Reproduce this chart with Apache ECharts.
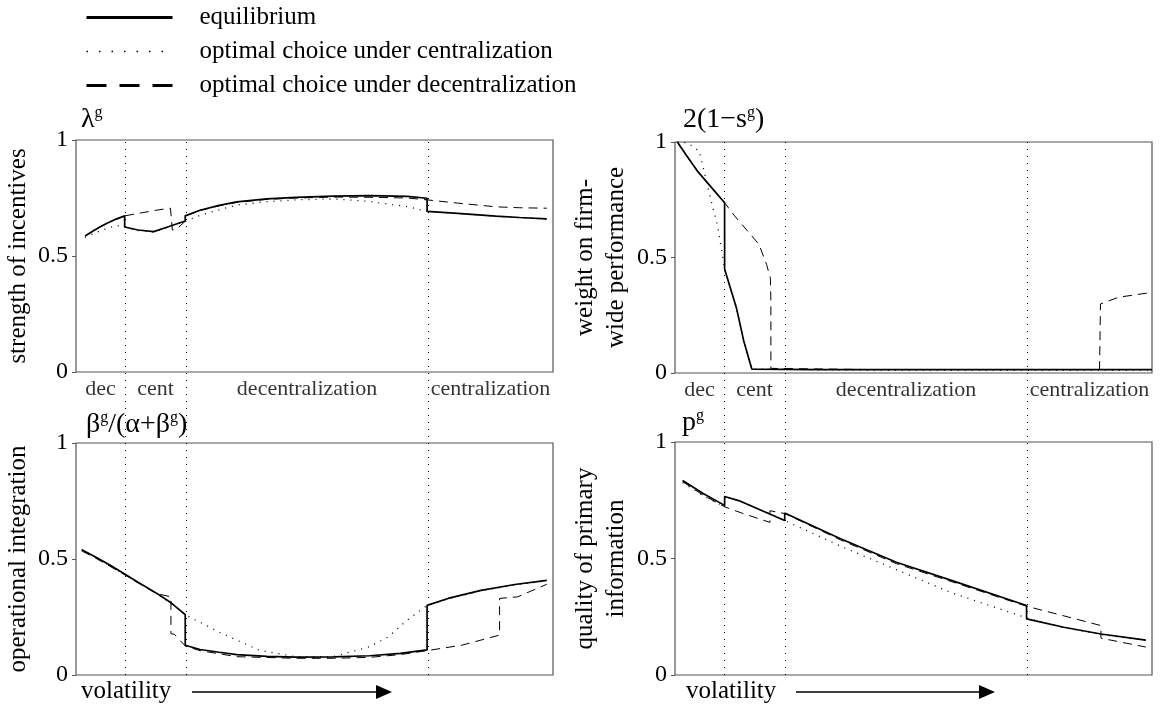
<!DOCTYPE html>
<html>
<head>
<meta charset="utf-8">
<script src="https://cdn.jsdelivr.net/npm/echarts@6/dist/echarts.min.js"></script>
<style>
  html, body { margin: 0; padding: 0; background: #fff; }
  #main { width: 1163px; height: 713px; }
</style>
</head>
<body>
<div id="main"></div>
<script>
// regime boundaries along the volatility axis (0..100)
var xBounds = [10.3, 23.1, 73.8];
var regionNames = ['dec', 'cent', 'decentralization', 'centralization'];
var seriesNames = ['equilibrium', 'optimal choice under centralization', 'optimal choice under decentralization'];

// lambda^g : strength of incentives
var lamEq = [[1.9,0.586],[3.5,0.607],[5,0.625],[6.5,0.641],[8.3,0.658],[10.2,0.673],[10.2,0.625],[13,0.612],[16.3,0.605],[19.5,0.627],[22.9,0.651],[22.9,0.673],[26,0.697],[30,0.718],[33.7,0.733],[40,0.746],[46.1,0.753],[54,0.758],[61.6,0.76],[69.4,0.757],[73.6,0.749],[73.6,0.692],[80,0.684],[88,0.672],[93,0.666],[98.7,0.66]];
var lamCent = [[1.9,0.58],[4,0.6],[6,0.615],[8.5,0.632],[10.2,0.625],[13,0.61],[16.3,0.603],[19.5,0.626],[22.9,0.65],[26,0.675],[30,0.699],[33.7,0.72],[40,0.734],[46.1,0.742],[53.9,0.746],[61.6,0.735],[69.4,0.713],[73.6,0.692],[80,0.683],[88,0.671],[93,0.665],[98.7,0.659]];
var lamDec = [[1.9,0.586],[5,0.625],[8.3,0.658],[10.2,0.673],[14,0.687],[17,0.698],[19.8,0.706],[20.2,0.612],[21.2,0.618],[22.9,0.65],[22.9,0.673],[26,0.696],[30,0.716],[33.7,0.731],[40,0.744],[46.1,0.75],[54,0.754],[61.6,0.753],[69.4,0.75],[73.6,0.742],[80,0.728],[88,0.712],[93,0.708],[98.7,0.706]];

// 2(1-s^g) : weight on firm-wide performance
var sEq = [[0.5,1.0],[2.3,0.945],[4.7,0.874],[7.4,0.809],[10.4,0.737],[10.4,0.45],[12.9,0.28],[14.4,0.14],[16.1,0.017],[30,0.015],[60,0.015],[100,0.015]];
var sCent = [[0.5,1.0],[2.7,0.996],[5.1,0.96],[7.4,0.76],[9,0.63],[10.4,0.45],[12.9,0.28],[14.4,0.14],[16.1,0.017],[40,0.012],[100,0.012]];
var sDec = [[0.5,1.0],[2.3,0.945],[4.7,0.874],[7.4,0.809],[10.4,0.737],[12.5,0.68],[15.2,0.615],[17.6,0.557],[19.2,0.47],[20,0.41],[20.1,0.31],[20.1,0.02],[40,0.015],[89,0.015],[89.2,0.299],[93,0.328],[100,0.349]];

// beta^g/(alpha+beta^g) : operational integration
var bEq = [[1.2,0.54],[4,0.51],[7,0.475],[10.2,0.435],[13,0.4],[16.7,0.355],[20,0.31],[22.9,0.26],[22.9,0.128],[26,0.11],[30,0.098],[33.7,0.088],[40,0.08],[46.1,0.077],[54,0.078],[61.6,0.083],[68,0.093],[73.6,0.108],[73.6,0.3],[78,0.33],[84.9,0.365],[92,0.39],[98.7,0.408]];
var bCent = [[1.2,0.54],[4,0.508],[7,0.473],[10.2,0.433],[13,0.398],[16.7,0.353],[20,0.308],[22.9,0.26],[24.4,0.244],[30.6,0.179],[38.4,0.107],[46.1,0.079],[53.9,0.079],[61.6,0.122],[65.5,0.165],[69.4,0.236],[73.6,0.3],[78,0.328],[84.9,0.363],[92,0.388],[98.7,0.406]];
var bDec = [[1.2,0.535],[4,0.505],[7,0.47],[10.2,0.432],[13,0.397],[16.7,0.352],[19.9,0.337],[19.9,0.178],[20.6,0.176],[22.9,0.125],[26,0.105],[33.7,0.079],[46.1,0.072],[54,0.072],[61.6,0.076],[68,0.088],[73.6,0.105],[81,0.129],[88.8,0.172],[88.8,0.33],[92.6,0.337],[98.7,0.391]];

// p^g : quality of primary information
var pEq = [[1.6,0.835],[5.9,0.779],[10.4,0.728],[10.4,0.766],[13.7,0.746],[23,0.663],[23,0.695],[34.7,0.585],[46.4,0.484],[58.1,0.405],[73.7,0.298],[73.7,0.241],[81.5,0.205],[89.3,0.176],[98.7,0.15]];
var pCent = [[1.6,0.825],[5.9,0.77],[10.4,0.722],[10.4,0.766],[13.7,0.746],[23,0.663],[34.7,0.553],[46.4,0.452],[58.1,0.352],[73.7,0.245],[81.5,0.203],[89.3,0.174],[98.7,0.148]];
var pDec = [[1.6,0.83],[5.9,0.772],[10.4,0.722],[14,0.695],[19.9,0.655],[19.9,0.705],[23,0.693],[34.7,0.58],[46.4,0.478],[58.1,0.4],[73.7,0.295],[80,0.262],[89.3,0.212],[89.3,0.158],[98.7,0.12]];

var FONT = 'Liberation Serif';
var chart = echarts.init(document.getElementById('main'));

var panels = [
  { grid: { left: 76, top: 140, width: 477, height: 232 }, name: 'strength of incentives', nameGap: 39,
    title: '{m|λ}{s|g}', tl: 81, tt: 104, eq: lamEq, cent: lamCent, dec: lamDec },
  { grid: { left: 675, top: 142, width: 477, height: 231 }, name: 'weight on firm-\nwide performance', nameGap: 43,
    title: '{m|2(1−s}{s|g}{m|)}', tl: 683, tt: 104, eq: sEq, cent: sCent, dec: sDec },
  { grid: { left: 76, top: 443, width: 477, height: 232 }, name: 'operational integration', nameGap: 39,
    title: '{m|β}{s|g}{m|/(α+β}{s|g}{m|)}', tl: 86, tt: 409, eq: bEq, cent: bCent, dec: bDec },
  { grid: { left: 675, top: 442, width: 477, height: 233 }, name: 'quality of primary\ninformation', nameGap: 43,
    title: '{m|p}{s|g}', tl: 682, tt: 407, eq: pEq, cent: pCent, dec: pDec }
];

var grids = [], xAxes = [], yAxes = [], series = [], titles = [];
var titleRich = {
  m: { fontFamily: FONT, fontSize: 28, fontWeight: 'normal', color: '#000', lineHeight: 32 },
  s: { fontFamily: FONT, fontSize: 16, fontWeight: 'normal', color: '#000', lineHeight: 32, padding: [0, 0, 14, 0] }
};

panels.forEach(function (p, i) {
  grids.push(Object.assign({ show: true, borderColor: '#555', borderWidth: 1.2, backgroundColor: 'transparent' }, p.grid));
  xAxes.push({ gridIndex: i, type: 'value', min: 0, max: 100, show: false });
  yAxes.push({
    gridIndex: i, type: 'value', min: 0, max: 1, interval: 0.5,
    name: p.name, nameLocation: 'middle', nameGap: p.nameGap, nameRotate: 90,
    nameTextStyle: { fontFamily: FONT, fontSize: 25, color: '#000', lineHeight: 31 },
    axisLine: { show: false },
    axisTick: { show: true, length: 4, lineStyle: { color: '#555' } },
    axisLabel: { fontFamily: FONT, fontSize: 24, color: '#000', margin: 8 },
    splitLine: { show: false }
  });
  titles.push({ text: p.title, left: p.tl, top: p.tt, padding: 0, textStyle: { fontWeight: 'normal', rich: titleRich } });
  series.push({ name: seriesNames[1], type: 'line', xAxisIndex: i, yAxisIndex: i, data: p.cent, symbol: 'none',
    color: '#000', lineStyle: { color: '#000', width: 1.3, type: [1, 6] }, z: 2 });
  series.push({ name: seriesNames[2], type: 'line', xAxisIndex: i, yAxisIndex: i, data: p.dec, symbol: 'none',
    color: '#000', lineStyle: { color: '#000', width: 1, type: [9, 6] }, z: 3 });
  series.push({ name: seriesNames[0], type: 'line', xAxisIndex: i, yAxisIndex: i, data: p.eq, symbol: 'none',
    color: '#000', lineStyle: { color: '#000', width: 1.7 }, z: 4 });
});

// overlay grids spanning both rows: regime boundaries and regime names
var regionMid = [];
var edges = [0].concat(xBounds, [100]);
for (var k = 0; k < regionNames.length; k++) {
  regionMid.push([(edges[k] + edges[k + 1]) / 2, 0.534, regionNames[k]]);
}
[{ left: 76, top: 140, width: 477, height: 535 }, { left: 675, top: 142, width: 477, height: 533 }].forEach(function (g) {
  var gi = grids.length;
  grids.push(g);
  xAxes.push({ gridIndex: gi, type: 'value', min: 0, max: 100, show: false });
  yAxes.push({ gridIndex: gi, type: 'value', min: 0, max: 1, show: false });
  series.push({
    type: 'scatter', xAxisIndex: gi, yAxisIndex: gi, data: regionMid, symbolSize: 0, silent: true,
    label: { show: true, position: 'inside', formatter: function (d) { return d.data[2]; },
      fontFamily: FONT, fontSize: 22, color: '#000' },
    markLine: {
      silent: true, symbol: 'none', label: { show: false },
      lineStyle: { color: '#000', width: 1, type: [1, 6] },
      data: xBounds.map(function (b) { return { xAxis: b }; })
    }
  });
});

chart.setOption({
  animation: false,
  title: titles,
  legend: {
    left: 80, top: 0, orient: 'vertical', itemWidth: 86, itemHeight: 14, itemGap: 9,
    itemStyle: { opacity: 0 },
    textStyle: { fontFamily: FONT, fontSize: 25, color: '#000', lineHeight: 25, padding: [0, 0, 0, 22] },
    data: [
      { name: seriesNames[0], itemStyle: { opacity: 0 }, lineStyle: { width: 3, type: 'solid', color: '#000' } },
      { name: seriesNames[1], itemStyle: { opacity: 0 }, lineStyle: { width: 1.5, type: [1.5, 11], color: '#000' } },
      { name: seriesNames[2], itemStyle: { opacity: 0 }, lineStyle: { width: 3, type: [20, 13], color: '#000' } }
    ]
  },
  grid: grids,
  xAxis: xAxes,
  yAxis: yAxes,
  series: series,
  graphic: [
    { type: 'text', left: 81, top: 679, style: { text: 'volatility', font: '25px "Liberation Serif"', fill: '#000' } },
    { type: 'line', shape: { x1: 192, y1: 692, x2: 378, y2: 692 }, style: { stroke: '#000', lineWidth: 1.5 } },
    { type: 'polygon', shape: { points: [[376, 685], [392, 692], [376, 699]] }, style: { fill: '#000' } },
    { type: 'text', left: 686, top: 679, style: { text: 'volatility', font: '25px "Liberation Serif"', fill: '#000' } },
    { type: 'line', shape: { x1: 796, y1: 692, x2: 981, y2: 692 }, style: { stroke: '#000', lineWidth: 1.5 } },
    { type: 'polygon', shape: { points: [[979, 685], [995, 692], [979, 699]] }, style: { fill: '#000' } }
  ]
});
</script>
</body>
</html>
